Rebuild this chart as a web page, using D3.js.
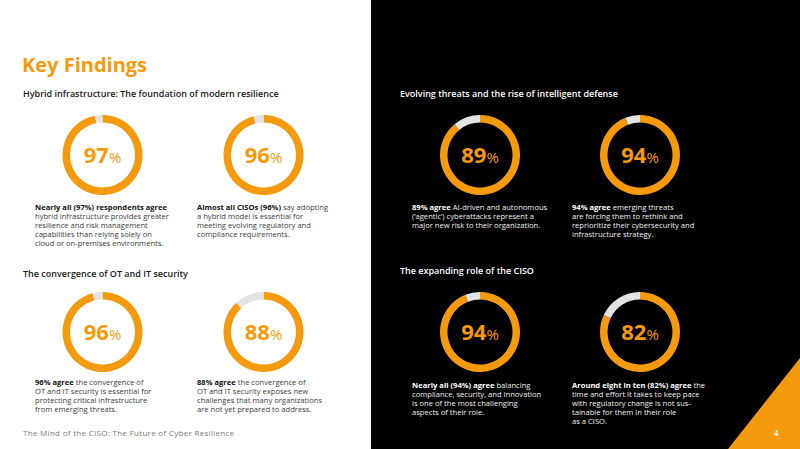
<!DOCTYPE html>
<html>
<head>
<meta charset="utf-8">
<script src="https://cdn.jsdelivr.net/npm/d3@7"></script>
<style>
  html, body { margin: 0; padding: 0; background: #fff; }
  svg { display: block; font-family: "Open Sans", sans-serif; }
</style>
</head>
<body>
<div id="chart"></div>
<script>
// DATA
// ================================================================================== //
const title = "Key Findings";
const footer = "The Mind of the CISO: The Future of Cyber Resilience";
const pageNumber = "4";

const sectionTitles = [
    "Hybrid infrastructure: The foundation of modern resilience",
    "Evolving threats and the rise of intelligent defense",
    "The convergence of OT and IT security",
    "The expanding role of the CISO"
];

// percent who agree, one ring each
const values = [97, 96, 89, 94, 96, 88, 94, 82];

// bold lead of each caption
const leads = [
    "Nearly all (97%) respondents agree",
    "Almost all CISOs (96%)",
    "89% agree",
    "94% agree",
    "96% agree",
    "88% agree",
    "Nearly all (94%) agree",
    "Around eight in ten (82%) agree"
];

// rest of each caption, line by line (first entry follows the lead)
const captions = [
    ["", "hybrid infrastructure provides greater", "resilience and risk management", "capabilities than relying solely on", "cloud or on-premises environments."],
    [" say adopting", "a hybrid model is essential for", "meeting evolving regulatory and", "compliance requirements."],
    [" AI-driven and autonomous", "(\u2018agentic\u2019) cyberattacks represent a", "major new risk to their organization."],
    [" emerging threats", "are forcing them to rethink and", "reprioritize their cybersecurity and", "infrastructure strategy."],
    [" the convergence of", "OT and IT security is essential for", "protecting critical infrastructure", "from emerging threats."],
    [" the convergence of", "OT and IT security exposes new", "challenges that many organizations", "are not yet prepared to address."],
    [" balancing", "compliance, security, and innovation", "is one of the most challenging", "aspects of their role."],
    [" the", "time and effort it takes to keep pace", "with regulatory change is not sus-", "tainable for them in their role", "as a CISO."]
];
// ================================================================================== //

const width = 800;
const height = 449;
const orange = "#f59a0c";
const track = "#e4e4e4";
const darkStart = 371;

const svg = d3.select("#chart")
    .append("svg")
    .attr("width", width)
    .attr("height", height);

// background halves
svg.append("rect").attr("width", width).attr("height", height).attr("fill", "#fff");
svg.append("rect").attr("x", darkStart).attr("width", width - darkStart).attr("height", height).attr("fill", "#000");

// orange corner triangle
svg.append("path")
    .attr("d", `M728,${height}L${width},358L${width},${height}Z`)
    .attr("fill", orange);

// layout scales: ring index -> column / row
const colX = d3.scaleOrdinal().domain([0, 1, 2, 3]).range([102.5, 263.5, 480, 640]);
const rowY = d3.scaleOrdinal().domain([0, 1]).range([155, 332]);
const ringCol = i => (i % 4);
const ringRow = i => Math.floor(i / 4);
const isDark = i => ringCol(i) >= 2;

// title
svg.append("text")
    .attr("x", 22)
    .attr("y", 72)
    .attr("fill", orange)
    .attr("font-size", 20)
    .attr("font-weight", 700)
    .text(title);

// section titles
const sectionPos = [[23, 97], [400, 97], [23, 277], [400, 274]];
svg.selectAll("text.section")
    .data(sectionTitles)
    .enter()
    .append("text")
    .attr("class", "section")
    .attr("x", (d, i) => sectionPos[i][0])
    .attr("y", (d, i) => sectionPos[i][1])
    .attr("fill", (d, i) => i % 2 ? "#fff" : "#1a1a1a")
    .attr("font-size", 9)
    .attr("font-weight", 600)
    .text(d => d);

// rings
const pie = d3.pie().sort(null).value(d => d);
const arc = d3.arc().innerRadius(32.5).outerRadius(40);

const rings = svg.selectAll("g.ring")
    .data(values)
    .enter()
    .append("g")
    .attr("class", "ring")
    .attr("transform", (d, i) => `translate(${colX(ringCol(i))},${rowY(ringRow(i))})`);

rings.selectAll("path")
    .data(d => pie([d, 100 - d]))
    .enter()
    .append("path")
    .attr("d", arc)
    .attr("fill", (d, i) => i === 0 ? orange : track);

const label = rings.append("text")
    .attr("text-anchor", "middle")
    .attr("y", 7.5)
    .attr("fill", orange);
label.append("tspan")
    .attr("font-size", 22)
    .attr("font-weight", 700)
    .text(d => d);
label.append("tspan")
    .attr("font-size", 15)
    .attr("font-weight", 400)
    .text("%");

// captions: first baseline per row, light side / dark side
const captionX = [35, 197, 412, 572];
const captionY = [[209.5, 209.5], [385, 388]];
const lineH = 9;

leads.forEach((lead, i) => {
    const x0 = captionX[ringCol(i)];
    const y0 = captionY[ringRow(i)][isDark(i) ? 1 : 0];
    const t = svg.append("text")
        .attr("font-size", 7.6)
        .attr("fill", isDark(i) ? "#f2f2f2" : "#3a3a3a");
    captions[i].forEach((line, j) => {
        if (j === 0) {
            t.append("tspan")
                .attr("x", x0)
                .attr("y", y0)
                .attr("font-weight", 700)
                .attr("fill", isDark(i) ? "#fff" : "#111")
                .text(lead);
            t.append("tspan").text(line);
        } else {
            t.append("tspan")
                .attr("x", x0)
                .attr("y", y0 + j * lineH)
                .text(line);
        }
    });
});

// footer
svg.append("text")
    .attr("x", 23)
    .attr("y", 436)
    .attr("fill", "#7a7a7a")
    .attr("font-size", 8)
    .attr("letter-spacing", 0.3)
    .text(footer);

svg.append("text")
    .attr("x", 774)
    .attr("y", 436)
    .attr("fill", "#fff")
    .attr("font-size", 8)
    .attr("font-weight", 600)
    .text(pageNumber);
</script>
</body>
</html>
